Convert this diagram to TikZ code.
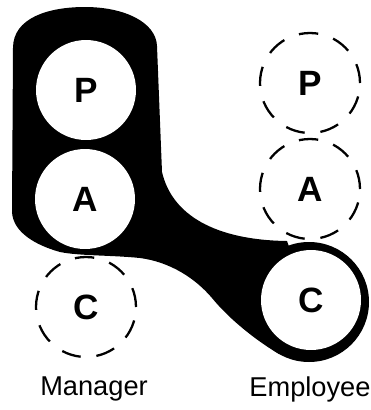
\documentclass[tikz,border=0pt]{standalone}
\usepackage{fontspec}
\setmainfont{Liberation Sans}
\usetikzlibrary{positioning}
\definecolor{ink}{HTML}{000000}

\begin{document}
\begin{tikzpicture}[x=0.02cm,y=-0.02cm,
  hole/.style={circle,fill=white,inner sep=0pt,minimum size=2.0cm,
    font=\fontsize{20}{20}\selectfont\bfseries},
  ghost/.style={hole,fill=none,draw=ink,line width=1.3pt,dash pattern=on 11pt off 9pt},
  role/.style={font=\fontsize{15.5}{15.5}\selectfont,ink}]
  \useasboundingbox (0,0) rectangle (370,410);
  % the manager's band, reaching over to the employee's C
  \fill[ink] (13,48) .. controls (13,18) and (48,7) .. (85,7)
    .. controls (124,7) and (156,22) .. (157,46)
    -- (162,172) .. controls (172,215) and (215,240) .. (287,241)
    -- (309,302) -- (279,354)
    .. controls (257,341) and (230,320) .. (212,298)
    .. controls (195,278) and (170,262) .. (140,258)
    .. controls (110,255) and (80,256) .. (60,252)
    .. controls (35,245) and (13,232) .. (12,212) -- cycle;
  \fill[ink] (309,302) circle (60);
  % states in use
  \node[hole] (mp) at (86,90) {P};
  \node[hole] (ma) at (85,199) {A};
  \node[hole] (ec) at (311,300) {C};
  % states left out
  \foreach \n/\t/\x/\y in {mc/C/86/307, ep/P/310/83, ea/A/310/189}
    \node[ghost] (\n) at (\x,\y) {\t};
  \node[role] (mgr) at (94,389) {Manager};
  \node[role] (emp) at (310,389) {Employee};
\end{tikzpicture}
\end{document}
